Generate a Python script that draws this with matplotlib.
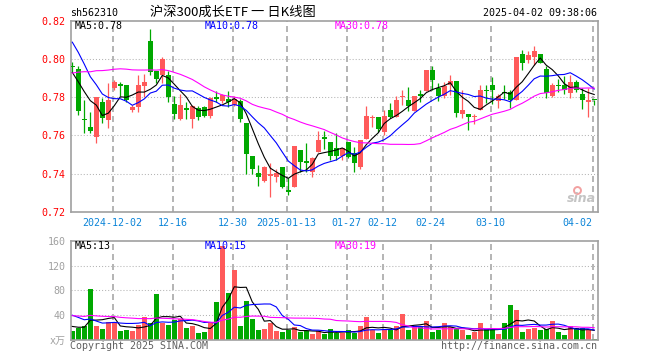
import numpy as np
import pandas as pd
import matplotlib
matplotlib.use('Agg')
from matplotlib import pyplot as plt

# x tick dates (candle index -> label)
tick_idx = [7, 17, 27, 36, 46, 52, 60, 70, 87]
tick_labels = ['2024-12-02', '12-16', '12-30', '2025-01-13', '01-27',
               '02-12', '02-24', '03-10', '04-02']

opens = [0.7963, 0.7947, 0.7685, 0.7642, 0.7593, 0.7775, 0.7679, 0.7846, 0.7868, 0.7865,
         0.7733, 0.7747, 0.7856, 0.8096, 0.7939, 0.7918, 0.7918, 0.7765, 0.7684, 0.7744,
         0.7684, 0.7742, 0.7746, 0.7702, 0.7798, 0.7779, 0.7788, 0.7760, 0.7782, 0.7667,
         0.7491, 0.7405, 0.7361, 0.7388, 0.7382, 0.7435, 0.7312, 0.7330, 0.7523, 0.7463,
         0.7409, 0.7514, 0.7591, 0.7563, 0.7533, 0.7491, 0.7567, 0.7505, 0.7435, 0.7581,
         0.7693, 0.7698, 0.7619, 0.7733, 0.7698, 0.7800, 0.7786, 0.7725, 0.7818, 0.7830,
         0.7940, 0.7847, 0.7807, 0.7865, 0.7886, 0.7712, 0.7712, 0.7695, 0.7733, 0.7835,
         0.7865, 0.7777, 0.7828, 0.7828, 0.7786, 0.8028, 0.7996, 0.8011, 0.8028, 0.7947,
         0.7807, 0.7865, 0.7863, 0.7821, 0.7877, 0.7818, 0.7775, 0.7786]
closes = [0.7960, 0.7725, 0.7682, 0.7625, 0.7798, 0.7688, 0.7786, 0.7879, 0.7856, 0.7786,
          0.7747, 0.7865, 0.7877, 0.7930, 0.7896, 0.8000, 0.7798, 0.7712, 0.7760, 0.7733,
          0.7754, 0.7698, 0.7702, 0.7796, 0.7789, 0.7811, 0.7774, 0.7790, 0.7686, 0.7502,
          0.7421, 0.7382, 0.7435, 0.7400, 0.7404, 0.7330, 0.7304, 0.7544, 0.7461, 0.7453,
          0.7479, 0.7575, 0.7579, 0.7491, 0.7491, 0.7533, 0.7488, 0.7456, 0.7575, 0.7702,
          0.7698, 0.7633, 0.7702, 0.7698, 0.7786, 0.7807, 0.7754, 0.7807, 0.7807, 0.7940,
          0.7888, 0.7807, 0.7856, 0.7886, 0.7716, 0.7733, 0.7698, 0.7698, 0.7835, 0.7830,
          0.7835, 0.7807, 0.7821, 0.7786, 0.8009, 0.7979, 0.8018, 0.8039, 0.7979, 0.7821,
          0.7863, 0.7856, 0.7835, 0.7877, 0.7835, 0.7786, 0.7786, 0.7784]
highs = [0.7982, 0.7961, 0.7786, 0.7720, 0.7800, 0.7795, 0.7874, 0.7888, 0.7880, 0.7865,
         0.7760, 0.7918, 0.7920, 0.8158, 0.7939, 0.8009, 0.7939, 0.7804, 0.7818, 0.7772,
         0.7760, 0.7754, 0.7754, 0.7798, 0.7830, 0.7818, 0.7833, 0.7804, 0.7789, 0.7667,
         0.7491, 0.7444, 0.7438, 0.7453, 0.7426, 0.7435, 0.7379, 0.7544, 0.7523, 0.7558,
         0.7488, 0.7623, 0.7623, 0.7563, 0.7611, 0.7533, 0.7567, 0.7540, 0.7575, 0.7754,
         0.7707, 0.7698, 0.7733, 0.7768, 0.7807, 0.7835, 0.7851, 0.7807, 0.7835, 0.7944,
         0.7961, 0.7874, 0.7877, 0.7918, 0.7886, 0.7835, 0.7712, 0.7712, 0.7865, 0.7865,
         0.7905, 0.7818, 0.7865, 0.7839, 0.8009, 0.8049, 0.8040, 0.8070, 0.8028, 0.7965,
         0.7874, 0.7895, 0.7912, 0.7918, 0.7888, 0.7847, 0.7847, 0.7786]
lows = [0.7930, 0.7705, 0.7610, 0.7610, 0.7561, 0.7663, 0.7640, 0.7839, 0.7804, 0.7772,
        0.7720, 0.7720, 0.7800, 0.7918, 0.7874, 0.7874, 0.7772, 0.7684, 0.7680, 0.7684,
        0.7640, 0.7680, 0.7698, 0.7693, 0.7772, 0.7768, 0.7747, 0.7754, 0.7672, 0.7396,
        0.7396, 0.7335, 0.7356, 0.7277, 0.7356, 0.7326, 0.7286, 0.7330, 0.7409, 0.7409,
        0.7382, 0.7514, 0.7526, 0.7470, 0.7470, 0.7470, 0.7479, 0.7409, 0.7421, 0.7581,
        0.7646, 0.7619, 0.7602, 0.7689, 0.7698, 0.7760, 0.7725, 0.7725, 0.7774, 0.7830,
        0.7835, 0.7782, 0.7795, 0.7812, 0.7695, 0.7690, 0.7628, 0.7660, 0.7730, 0.7768,
        0.7765, 0.7742, 0.7791, 0.7742, 0.7786, 0.7944, 0.7979, 0.7970, 0.7979, 0.7795,
        0.7800, 0.7825, 0.7818, 0.7793, 0.7825, 0.7739, 0.7698, 0.7760]
volumes = [14.2, 19.6, 22.3, 81.9, 22.3, 17.4, 29.8, 29.3, 14.2, 15.8,
           14.2, 23.9, 36.8, 26.6, 73.8, 27.1, 23.9, 31.9, 34.6, 19.1,
           22.3, 11.0, 12.6, 27.7, 60.9, 151.7, 75.4, 113.0, 22.3, 62.6,
           33.6, 15.8, 17.4, 27.1, 14.2, 12.6, 15.8, 20.7, 12.6, 14.2,
           9.4, 14.2, 9.4, 17.4, 11.5, 11.5, 15.8, 11.5, 22.3, 36.8,
           15.8, 11.0, 15.8, 16.4, 22.3, 41.6, 15.8, 22.3, 20.7, 30.3,
           12.6, 15.8, 27.1, 20.7, 17.4, 15.8, 7.8, 12.6, 27.1, 17.4,
           17.4, 9.4, 27.1, 56.1, 48.1, 12.6, 17.4, 19.1, 15.8, 17.4,
           30.3, 12.6, 7.8, 22.3, 19.1, 19.1, 15.8, 1.3]

# sessions before the first visible candle (only feed the moving averages)
prior_close = [0.758, 0.761, 0.764, 0.763, 0.767,
               0.770, 0.775, 0.779, 0.784, 0.786, 0.789, 0.788, 0.791, 0.793, 0.792, 0.795,
               0.800, 0.806, 0.812, 0.817,
               0.826, 0.830, 0.828, 0.822, 0.817,
               0.797, 0.794, 0.786, 0.7915]
prior_volume = [35, 42, 30, 48, 36, 40, 33, 52, 38, 31, 45, 37, 29, 44, 39, 34, 50, 36, 41, 35,
                55, 60, 70, 55, 50,
                26, 22, 25, 22]

RED = '#ff5a5a'
GREEN = '#00a800'
BLUE = '#0b84d8'
FRAME = '#a0a0a0'
GRID = '#b4b4b4'

plt.rcParams['font.family'] = ['DejaVu Sans Mono', 'Noto Sans CJK SC']
plt.rcParams['lines.scale_dashes'] = False

W, H = 660, 360
fig = plt.figure(figsize=(6.6, 3.6), dpi=100)


def box(l, t, r, b):
    return [l / W, 1 - b / H, (r - l) / W, (b - t) / H]


ax = fig.add_axes(box(70.7, 20.7, 597.5, 211.7))
axv = fig.add_axes(box(70.7, 240.7, 597.5, 340.0))

n0 = len(prior_close)
x = np.arange(len(closes))
o = np.array(opens)
c = np.array(closes)
col = np.where(c >= o, RED, GREEN)

allc = pd.Series(prior_close + closes)
allv = pd.Series(prior_volume + volumes)
ma_cols = {5: 'black', 10: '#0000ff', 30: '#ff00ff'}

grid_x = np.array(tick_idx) - 0.28
for a in (ax, axv):
    for gx in grid_x:
        a.axvline(gx, color=GRID, lw=1.4, ls=(0, (4.3, 2.9)), zorder=0)
    for s in a.spines.values():
        s.set_color(FRAME)
        s.set_linewidth(1.2)
    a.set_xlim(-0.27, 87.55)

for gy in [0.74, 0.76, 0.78, 0.80]:
    ax.axhline(gy, color=GRID, lw=0.75, ls=(0, (0.75, 1.45)), zorder=0)
for gy in [40, 80, 120]:
    axv.axhline(gy, color=GRID, lw=0.75, ls=(0, (0.75, 1.45)), zorder=0)

# candles
ax.vlines(x, lows, highs, colors=col, lw=0.9, zorder=2)
body = np.maximum(np.abs(c - o), 0.0005)
ax.bar(x, body, bottom=np.minimum(o, c), width=0.78, color=col, linewidth=0, zorder=3)
for n, lc in ma_cols.items():
    ax.plot(x, allc.rolling(n).mean().values[n0:], color=lc, lw=0.8, zorder=4)

# volume
axv.bar(x, volumes, width=0.78, color=col, linewidth=0, zorder=2)
for n, lc in ma_cols.items():
    axv.plot(x, allv.rolling(n).mean().values[n0:], color=lc, lw=0.8, zorder=4)

ax.set_ylim(0.72, 0.82)
ax.set_yticks([0.72, 0.74, 0.76, 0.78, 0.80, 0.82], ['%.2f' % v for v in [0.72, 0.74, 0.76, 0.78, 0.80, 0.82]])
ax.tick_params(axis='y', length=0, pad=3.6, labelcolor='#ff0000', labelsize=7.2)
ax.set_xticks(grid_x, tick_labels)
ax.tick_params(axis='x', length=0, pad=4.5, labelcolor=BLUE, labelsize=7.2)
ax.get_xticklabels()[-1].set_ha('right')

axv.set_ylim(0, 160)
axv.set_yticks([0, 40, 80, 120, 160], ['x万', '40', '80', '120', '160'])
axv.tick_params(axis='y', length=0, pad=3.6, labelcolor='#a0a0a0', labelsize=7.2)
axv.set_xticks([])

# header texts
fig.text(70 / W, 1 - 13 / H, 'sh562310', ha='left', va='center', fontsize=7.2)
fig.text(150 / W, 1 - 12.5 / H, '沪深300成长ETF 一 日K线图', ha='left', va='center',
         fontsize=9.5, family=['Noto Sans CJK SC', 'DejaVu Sans'])
fig.text(597.3 / W, 1 - 13 / H, '2025-04-02 09:38:06', ha='right', va='center', fontsize=7.2)

for xt, s, lc in [(75, 'MA5:0.78', 'black'), (205, 'MA10:0.78', '#0000ff'), (334.7, 'MA30:0.78', '#ff00ff')]:
    fig.text(xt / W, 1 - 26.3 / H, s, color=lc, ha='left', va='center', fontsize=7.2)
for xt, s, lc in [(75, 'MA5:13', 'black'), (205, 'MA10:15', '#0000ff'), (334.7, 'MA30:19', '#ff00ff')]:
    fig.text(xt / W, 1 - 245.7 / H, s, color=lc, ha='left', va='center', fontsize=7.2)

fig.text(70 / W, 1 - 346 / H, 'Copyright 2025 SINA.COM', ha='left', va='center',
         fontsize=7.2, color='#606060')
fig.text(597.3 / W, 1 - 346 / H, 'http://finance.sina.com.cn', ha='right', va='center',
         fontsize=7.2, color='#606060')

# sina watermark
fig.text(581 / W, 1 - 198 / H, 'sina', ha='center', va='center', fontsize=9,
         family='DejaVu Sans', style='italic', weight='bold', color='#c4c4c4')
fig.add_artist(plt.Line2D([577 / W], [1 - 190 / H], marker='o', ms=5, mfc='none',
                          mec='#f2a0a0', mew=1.4, transform=fig.transFigure))

fig.savefig('out.png', dpi=100)
